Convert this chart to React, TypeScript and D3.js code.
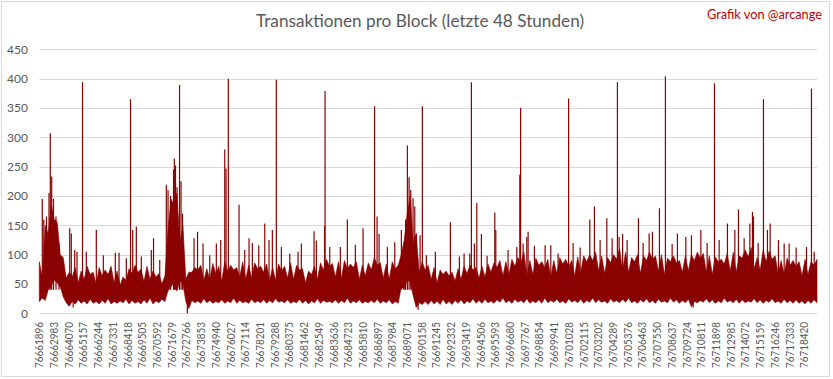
import React from "react";
import * as d3 from "d3";

const W = 833;
const H = 379;

const TITLE = "Transaktionen pro Block (letzte 48 Stunden)";
const CREDIT = "Grafik von @arcange";

const FIRST_BLOCK = 76661896;
const SAMPLE_STEP = 442; // blocks between envelope samples
const LABEL_STEP = 1087; // blocks between x-axis labels
const LABEL_COUNT = 53;

const yTicks = [0, 50, 100, 150, 200, 250, 300, 350, 400, 450];

// local maxima of the dense band, one sample every SAMPLE_STEP blocks
const bandTop = [
  88, 150, 185, 155, 95, 70, 78, 72, 80, 70,
  78, 74, 80, 72, 62, 76, 82, 75, 80, 72,
  68, 64, 195, 205, 150, 70, 78, 82, 76, 85,
  80, 88, 82, 78, 88, 82, 86, 80, 84, 78,
  84, 80, 86, 82, 76, 72, 80, 86, 92, 85,
  88, 90, 84, 88, 82, 86, 95, 86, 84, 88,
  82, 125, 200, 135, 88, 82, 78, 74, 72, 70,
  76, 80, 82, 78, 80, 84, 86, 90, 88, 92,
  95, 105, 90, 94, 88, 92, 90, 95, 92, 90,
  96, 98, 100, 104, 98, 95, 100, 110, 104, 95,
  100, 98, 104, 98, 100, 94, 98, 90, 98, 100,
  104, 102, 98, 96, 92, 102, 104, 98, 108, 112,
  95, 108, 106, 98, 90, 94, 90, 88, 92, 88,
  92,
];

// upper edge of the band halfway between two samples
const topValley = [
  62, 135, 160, 100, 60, 62, 52, 58, 66, 50,
  64, 66, 52, 48, 56, 68, 70, 54, 58, 62,
  50, 140, 185, 120, 58, 70, 74, 56, 58, 68,
  55, 72, 74, 62, 58, 60, 76, 70, 56, 56,
  72, 60, 58, 74, 52, 66, 58, 74, 80, 62,
  60, 76, 78, 58, 64, 74, 82, 60, 58, 76,
  100, 170, 120, 70, 74, 58, 52, 66, 64, 55,
  58, 68, 74, 60, 62, 70, 78, 64, 66, 80,
  86, 64, 66, 82, 78, 62, 68, 84, 80, 64,
  70, 88, 90, 72, 68, 86, 92, 74, 70, 88,
  68, 90, 92, 72, 66, 88, 86, 70, 72, 90,
  94, 70, 66, 88, 84, 72, 70, 94, 96, 76,
  74, 88, 92, 68, 66, 82, 80, 64, 66, 82,
];

// local minima of the band's lower edge, one per sample
const bandLow = [
  20, 22, 48, 52, 28, 12, 16, 17, 16, 17,
  16, 17, 16, 17, 18, 16, 17, 16, 17, 16,
  18, 20, 45, 38, 50, 8, 18, 17, 18, 17,
  18, 17, 18, 17, 18, 17, 18, 18, 17, 18,
  19, 18, 17, 18, 17, 16, 18, 17, 19, 18,
  17, 18, 17, 18, 17, 18, 18, 17, 18, 16,
  17, 40, 52, 10, 15, 15, 16, 15, 16, 15,
  17, 16, 18, 17, 17, 18, 17, 19, 18, 17,
  19, 18, 17, 18, 17, 18, 19, 18, 17, 19,
  18, 17, 19, 18, 19, 17, 19, 18, 19, 18,
  17, 19, 18, 17, 19, 18, 19, 17, 18, 11,
  18, 19, 18, 17, 18, 19, 18, 17, 18, 19,
  18, 17, 19, 18, 17, 18, 17, 17, 16, 17,
  18,
];

// lower edge of the band halfway between two samples
const lowPeak = [
  26, 40, 56, 45, 18, 20, 23, 21, 24, 20,
  22, 25, 20, 21, 24, 22, 20, 23, 26, 21,
  24, 38, 52, 55, 20, 22, 21, 25, 22, 20,
  23, 21, 26, 22, 20, 24, 21, 23, 22, 25,
  21, 23, 20, 24, 22, 21, 25, 22, 20, 23,
  22, 26, 21, 23, 20, 22, 24, 21, 23, 20,
  45, 58, 30, 18, 20, 22, 21, 24, 20, 22,
  23, 21, 25, 22, 24, 21, 23, 26, 22, 24,
  22, 25, 21, 23, 26, 22, 24, 21, 25, 22,
  24, 22, 26, 23, 21, 25, 22, 24, 26, 21,
  23, 25, 22, 24, 21, 26, 23, 22, 24, 20,
  22, 25, 23, 21, 26, 22, 24, 23, 21, 25,
  23, 22, 25, 21, 24, 22, 23, 21, 22, 23,
];

// individual blocks rising above the band: block number and transactions
const spikeBlocks = [
  76662118, 76662229, 76662428, 76662613, 76662709, 76662812, 76662945, 76663130, 76663352, 76664143,
  76664261, 76664512, 76664682, 76665088, 76665369, 76666108, 76666626, 76667512, 76667786, 76668325,
  76668636, 76668798, 76669064, 76669434, 76670173, 76670335, 76670794, 76671281, 76671407, 76671592,
  76671813, 76671873, 76671961, 76672072, 76672257, 76672368, 76672478, 76673328, 76673587, 76673993,
  76674489, 76674976, 76675301, 76675597, 76675693, 76675863, 76676654, 76677075, 76677393, 76677637,
  76678110, 76678553, 76678871, 76679115, 76679410, 76679780, 76680401, 76681014, 76681258, 76682196,
  76682366, 76682972, 76683009, 76683357, 76684140, 76684657, 76685248, 76685817, 76686667, 76686852,
  76687000, 76687613, 76688160, 76688648, 76688958, 76689091, 76689217, 76689342, 76689512, 76689638,
  76689756, 76690030, 76690200, 76690495, 76691160, 76692269, 76692934, 76693281, 76693703, 76693821,
  76694043, 76694220, 76694560, 76694981, 76695550, 76695624, 76696533, 76697176, 76697398, 76697457,
  76697641, 76697915, 76698011, 76698477, 76699267, 76699688, 76700228, 76701004, 76701336, 76701854,
  76702571, 76702911, 76703332, 76703827, 76704219, 76704610, 76704736, 76704994, 76705327, 76706162,
  76706509, 76706953, 76707197, 76707714, 76708157, 76708653, 76709044, 76709665, 76710079, 76710773,
  76711239, 76711779, 76712126, 76712739, 76713286, 76713552, 76713973, 76714395, 76714587, 76714661,
  76715008, 76715400, 76715695, 76715895, 76716508, 76716929, 76717299, 76717816, 76718577, 76718947,
  76719146,
];
const spikeValues = [
  195, 160, 165, 205, 307, 233, 195, 165, 118, 145,
  136, 108, 105, 394, 105, 142, 99, 103, 103, 94,
  365, 142, 148, 97, 108, 128, 91, 219, 210, 200,
  245, 264, 252, 215, 389, 225, 170, 128, 139, 119,
  99, 119, 125, 279, 247, 400, 185, 108, 128, 120,
  116, 153, 125, 142, 398, 113, 102, 105, 119, 140,
  124, 149, 379, 113, 113, 160, 117, 145, 353, 165,
  135, 113, 121, 142, 160, 286, 232, 210, 196, 182,
  136, 133, 353, 99, 105, 155, 97, 102, 102, 394,
  119, 188, 135, 98, 172, 142, 108, 113, 236, 350,
  119, 130, 139, 115, 116, 116, 102, 366, 120, 112,
  160, 182, 125, 162, 128, 394, 130, 135, 125, 162,
  120, 136, 139, 179, 404, 118, 136, 130, 133, 142,
  120, 392, 125, 153, 142, 177, 128, 153, 173, 165,
  120, 365, 142, 153, 125, 119, 119, 112, 113, 383,
  105,
];

// isolated blocks dropping below the band
const dipBlocks = [76664400, 76672833, 76689882, 76710204];
const dipValues = [10, 0, 6, 10];

const RED = "#8B0000";
const GRID = "#d9d9d9";
const TEXT = "#595959";
const FONT = "Lato, 'Open Sans', sans-serif";

type Pt = { block: number; top: number; low: number };

export default function App() {
  const plotLeft = 39.3;
  const plotRight = 817;
  const plotTop = 49.3;
  const plotBottom = 313.3;

  const lastBlock = FIRST_BLOCK + (bandTop.length - 1) * SAMPLE_STEP;
  const x = d3.scaleLinear().domain([FIRST_BLOCK, lastBlock]).range([plotLeft, plotRight]);
  const y = d3.scaleLinear().domain([0, 450]).range([plotBottom, plotTop]);

  const pts: Pt[] = [];
  bandTop.forEach((t, i) => {
    const b = FIRST_BLOCK + i * SAMPLE_STEP;
    pts.push({ block: b, top: t, low: bandLow[i] });
    if (i < topValley.length) {
      pts.push({ block: b + SAMPLE_STEP / 2, top: topValley[i], low: lowPeak[i] });
    }
  });

  const area = d3
    .area<Pt>()
    .x((d) => x(d.block))
    .y0((d) => y(d.low))
    .y1((d) => y(d.top))
    .curve(d3.curveLinear);

  const labels = d3.range(LABEL_COUNT).map((k) => FIRST_BLOCK + k * LABEL_STEP);

  return (
    <svg
      width={W}
      height={H}
      style={{ position: "absolute", left: 0, top: 0, background: "#fff" }}
      fontFamily={FONT}
    >
      <rect x={0} y={0} width={W} height={H} fill="#fff" />
      <rect x={1.5} y={1.5} width={828} height={375} fill="none" stroke={GRID} strokeWidth={1} />

      <text x={420} y={27} textAnchor="middle" fontSize={18} fill={TEXT} textLength={328} lengthAdjust="spacingAndGlyphs">
        {TITLE}
      </text>
      <text x={822} y={18.5} textAnchor="end" fontSize={12.5} fill="#C00000" textLength={115} lengthAdjust="spacingAndGlyphs">
        {CREDIT}
      </text>

      {yTicks.map((t) => (
        <g key={t}>
          <line x1={plotLeft} x2={plotRight} y1={Math.round(y(t)) + 0.5} y2={Math.round(y(t)) + 0.5} stroke={GRID} strokeWidth={1} />
          <text x={28} y={y(t)} dy="0.35em" textAnchor="end" fontSize={12} fill={TEXT}>
            {t}
          </text>
        </g>
      ))}

      <path d={area(pts) || ""} fill={RED} stroke={RED} strokeWidth={0.6} />

      {dipBlocks.map((b, i) => (
        <line key={"d" + i} x1={x(b)} x2={x(b)} y1={y(25)} y2={y(dipValues[i])} stroke={RED} strokeWidth={1.2} />
      ))}

      {spikeBlocks.map((b, i) => (
        <line key={"s" + i} x1={x(b)} x2={x(b)} y1={y(40)} y2={y(spikeValues[i])} stroke={RED} strokeWidth={1.2} />
      ))}

      {labels.map((b) => (
        <text
          key={b}
          transform={`translate(${x(b)},322) rotate(-90)`}
          dy="0.36em"
          textAnchor="end"
          fontSize={11}
          fill={TEXT}
          textLength={46}
          lengthAdjust="spacingAndGlyphs"
        >
          {b}
        </text>
      ))}
    </svg>
  );
}
